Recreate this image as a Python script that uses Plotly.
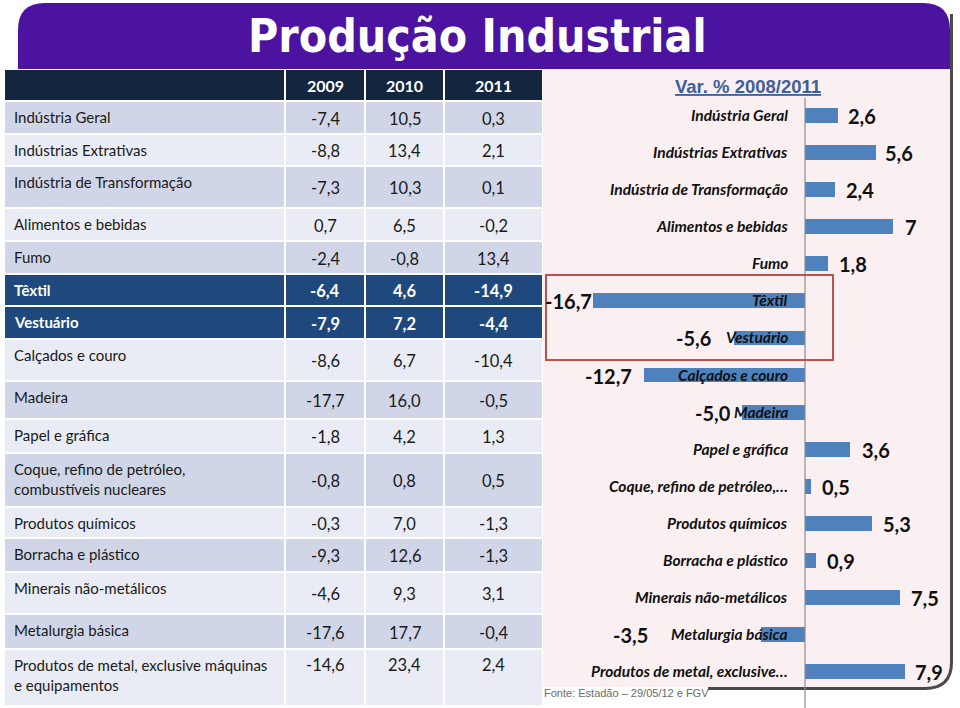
import plotly.graph_objects as go

# ---------------- data ----------------
table_labels = [
    "Indústria Geral", "Indústrias Extrativas", "Indústria de Transformação",
    "Alimentos e bebidas", "Fumo", "Têxtil", "Vestuário", "Calçados e couro",
    "Madeira", "Papel e gráfica",
    "Coque, refino de petróleo,<br>combustíveis nucleares",
    "Produtos químicos", "Borracha e plástico", "Minerais não-metálicos",
    "Metalurgia básica",
    "Produtos de metal, exclusive máquinas<br>e equipamentos",
]
years = ["2009", "2010", "2011"]
v2009 = [-7.4, -8.8, -7.3, 0.7, -2.4, -6.4, -7.9, -8.6, -17.7, -1.8, -0.8, -0.3, -9.3, -4.6, -17.6, -14.6]
v2010 = [10.5, 13.4, 10.3, 6.5, -0.8, 4.6, 7.2, 6.7, 16.0, 4.2, 0.8, 7.0, 12.6, 9.3, 17.7, 23.4]
v2011 = [0.3, 2.1, 0.1, -0.2, 13.4, -14.9, -4.4, -10.4, -0.5, 1.3, 0.5, -1.3, -1.3, 3.1, -0.4, 2.4]

chart_cats = [
    "Indústria Geral", "Indústrias Extrativas", "Indústria de Transformação",
    "Alimentos e bebidas", "Fumo", "Têxtil", "Vestuário", "Calçados e couro",
    "Madeira", "Papel e gráfica", "Coque, refino de petróleo,…",
    "Produtos químicos", "Borracha e plástico", "Minerais não-metálicos",
    "Metalurgia básica", "Produtos de metal, exclusive…",
]
var_0811 = [2.6, 5.6, 2.4, 7, 1.8, -16.7, -5.6, -12.7, -5.0, 3.6, 0.5, 5.3, 0.9, 7.5, -3.5, 7.9]
var_labels = ["2,6", "5,6", "2,4", "7", "1,8", "-16,7", "-5,6", "-12,7", "-5,0",
              "3,6", "0,5", "5,3", "0,9", "7,5", "-3,5", "7,9"]
highlight_rows = ["Têxtil", "Vestuário"]

# ---------------- layout constants ----------------
W, H = 960, 708
col_edges = [4, 285, 365, 444, 543]
row_edges = [69, 101, 134, 166, 208, 241, 274, 306, 339, 381, 419, 453, 507, 538, 572, 614, 649, 706]
label_shift = [8, 7, 9, 9, 9, 0, -21, -10, -9, 9, 9, 9, 9, 9, -111, 8]

PURPLE = "#4b139f"
NAVY = "#13253f"
HIL = "#1f497d"
ROW_DARK = "#d0d6e7"
ROW_LIGHT = "#e9ecf4"
PINK = "#faf0f2"
BAR = "#4f81bd"
BODY_FONT = "Lato"

fig = go.Figure()

# bar chart on x2/y2 (drawn above the pixel-frame subplot x/y)
idx = list(range(len(chart_cats)))
fig.add_trace(go.Bar(
    x=var_0811, y=idx, orientation="h", width=0.4,
    marker=dict(color=BAR, line=dict(width=0)),
    hoverinfo="skip", showlegend=False, xaxis="x2", yaxis="y2",
))

zero_px = 805
scale = 12.66
xr = [-21, 11.5]
x_dom = [(zero_px + xr[0] * scale) / W, (zero_px + xr[1] * scale) / W]
y_top_px, y_bot_px = 96.5, 96.5 + 16 * 37.07
y_dom = [(H - y_bot_px) / H, (H - y_top_px) / H]

shapes = []
annotations = []

# slide background pieces (pixel axis x/y)
shapes.append(dict(type="path", xref="x", yref="y", layer="below",
                   path="M 543,66 L 950,66 L 950,662 Q 950,687 925,687 L 543,687 Z",
                   fillcolor=PINK, line=dict(width=0)))
shapes.append(dict(type="path", xref="x", yref="y", layer="below",
                   path="M 18,69 L 18,30 Q 18,3 45,3 L 923,3 Q 950,3 950,30 L 950,69 Z",
                   fillcolor=PURPLE, line=dict(width=0)))
shapes.append(dict(type="path", xref="x", yref="y", layer="below",
                   path="M 951.5,14 L 951.5,662 Q 951.5,688.5 925,688.5 L 708,688.5",
                   line=dict(color="#4a4a4a", width=3)))

def fmt(v):
    return f"{v:.1f}".replace(".", ",")

# table header
for c in range(4):
    shapes.append(dict(type="rect", xref="x", yref="y", layer="below",
                       x0=col_edges[c] + 1, x1=col_edges[c + 1] - 1,
                       y0=row_edges[0] + 1, y1=row_edges[1] - 1,
                       fillcolor=NAVY, line=dict(width=0)))
for c, yr in enumerate(years):
    annotations.append(dict(xref="x", yref="y",
                            x=(col_edges[c + 1] + col_edges[c + 2]) / 2,
                            y=(row_edges[0] + row_edges[1]) / 2,
                            text=yr, showarrow=False, xanchor="center", yanchor="middle",
                            font=dict(family=BODY_FONT, size=16, color="white", weight="bold")))

cols_vals = [v2009, v2010, v2011]
for r, lab in enumerate(table_labels):
    top, bot = row_edges[r + 1], row_edges[r + 2]
    hl = lab in highlight_rows
    fill = HIL if hl else (ROW_DARK if r % 2 == 0 else ROW_LIGHT)
    tcol = "white" if hl else "#1a1a1a"
    weight = "bold" if hl else "normal"
    for c in range(4):
        shapes.append(dict(type="rect", xref="x", yref="y", layer="below",
                           x0=col_edges[c] + 1, x1=col_edges[c + 1] - 1,
                           y0=top + 1, y1=bot - 1,
                           fillcolor=fill, line=dict(width=0)))
    annotations.append(dict(xref="x", yref="y", x=col_edges[0] + 8, y=top + 5,
                            text=lab, showarrow=False, xanchor="left", yanchor="top",
                            align="left",
                            font=dict(family=BODY_FONT, size=15, color=tcol, weight=weight)))
    last = (r == len(table_labels) - 1)
    for c in range(3):
        annotations.append(dict(xref="x", yref="y",
                                x=(col_edges[c + 1] + col_edges[c + 2]) / 2,
                                y=(top + 4) if last else (top + bot) / 2 + 1,
                                text=fmt(cols_vals[c][r]), showarrow=False,
                                xanchor="center", yanchor="top" if last else "middle",
                                font=dict(family=BODY_FONT, size=16.5, color=tcol, weight=weight)))

# chart decorations
shapes.append(dict(type="line", xref="x2", yref="y", x0=0, x1=0, y0=98, y1=708,
                   line=dict(color="#8c8c8c", width=1.2)))
shapes.append(dict(type="rect", xref="x", yref="y", x0=546, x1=833, y0=275, y1=360,
                   line=dict(color="#c0504d", width=2), fillcolor="rgba(0,0,0,0)"))

for i, (cat, v, t, sh) in enumerate(zip(chart_cats, var_0811, var_labels, label_shift)):
    annotations.append(dict(xref="x2", yref="y2", x=0, y=i, text=cat, showarrow=False,
                            xanchor="right", yanchor="middle", xshift=-15,
                            font=dict(family=BODY_FONT, size=15.5, color="#111111",
                                      weight="bold", style="italic")))
    annotations.append(dict(xref="x2", yref="y2", x=v, y=i, text=t, showarrow=False,
                            xanchor="left" if v >= 0 else "right", yanchor="middle",
                            xshift=sh, yshift=-1,
                            font=dict(family=BODY_FONT, size=20, color="#111111", weight="bold")))

# titles
annotations.append(dict(xref="x", yref="y", x=477, y=36, text="Produção Industrial",
                        showarrow=False, xanchor="center", yanchor="middle",
                        font=dict(family="DejaVu Sans Condensed", size=46, color="white",
                                  weight="bold")))
annotations.append(dict(xref="x", yref="y", x=748, y=86, text="<u>Var. % 2008/2011</u>",
                        showarrow=False, xanchor="center", yanchor="middle",
                        font=dict(family="Liberation Sans", size=18.5, color="#3f5e9c",
                                  weight="bold")))
annotations.append(dict(xref="x", yref="y", x=542, y=693, text="Fonte: Estadão – 29/05/12 e FGV",
                        showarrow=False, xanchor="left", yanchor="middle",
                        font=dict(family="Liberation Sans", size=11, color="#6a6a6a")))

fig.update_layout(
    width=W, height=H, margin=dict(l=0, r=0, t=0, b=0),
    paper_bgcolor="white", plot_bgcolor="rgba(0,0,0,0)",
    xaxis=dict(domain=[0, 1], range=[0, W], visible=False, fixedrange=True, anchor="y"),
    yaxis=dict(domain=[0, 1], range=[H, 0], visible=False, fixedrange=True, anchor="x"),
    xaxis2=dict(domain=x_dom, range=xr, visible=False, fixedrange=True, anchor="y2"),
    yaxis2=dict(domain=y_dom, range=[15.5, -0.5], visible=False, fixedrange=True, anchor="x2"),
    shapes=shapes, annotations=annotations,
    bargap=0, showlegend=False,
)

fig.write_html("out.html", config={"displayModeBar": False},
               post_script="document.body.style.margin='0';")
